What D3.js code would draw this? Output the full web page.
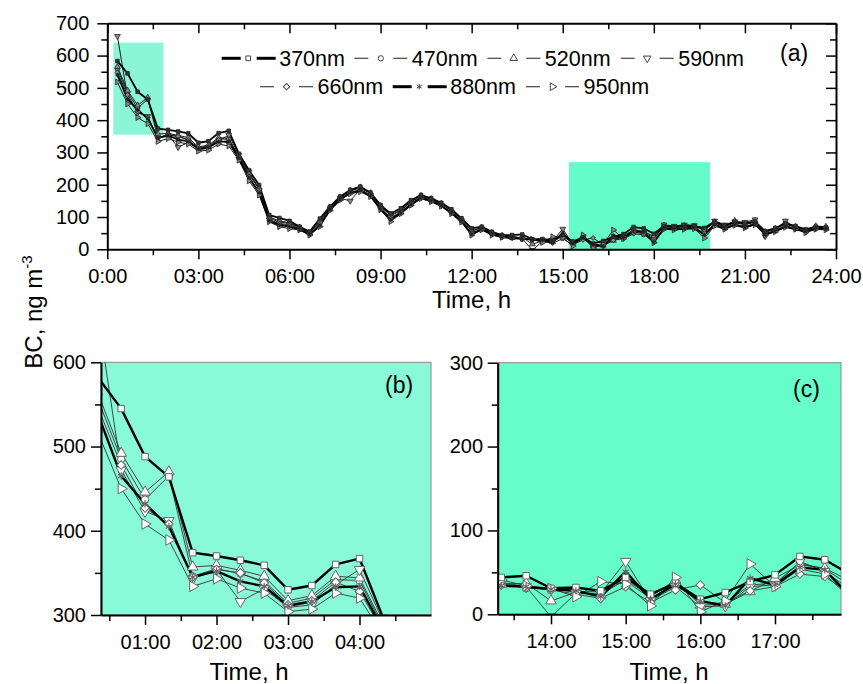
<!DOCTYPE html>
<html>
<head>
<meta charset="utf-8">
<script src="https://cdn.jsdelivr.net/npm/d3@7"></script>
<style>
  body { margin: 0; background: #fff; }
  text { font-family: "Liberation Sans", Arial, sans-serif; fill: #000; }
</style>
</head>
<body>
<svg id="chart" width="863" height="684"></svg>
<script>
// ---- data: black carbon (ng m^-3) by wavelength, 20-min means ----
const times = ["00:20","00:40","01:00","01:20","01:40","02:00","02:20","02:40","03:00","03:20","03:40","04:00",
  "04:20","04:40","05:00","05:20","05:40","06:00","06:20","06:40","07:00","07:20","07:40","08:00",
  "08:20","08:40","09:00","09:20","09:40","10:00","10:20","10:40","11:00","11:20","11:40","12:00",
  "12:20","12:40","13:00","13:20","13:40","14:00","14:20","14:40","15:00","15:20","15:40","16:00",
  "16:20","16:40","17:00","17:20","17:40","18:00","18:20","18:40","19:00","19:20","19:40","20:00",
  "20:20","20:40","21:00","21:20","21:40","22:00","22:20","22:40","23:00","23:20","23:40"];

const wavelengths = ["370nm", "470nm", "520nm", "590nm", "660nm", "880nm", "950nm"];

const bc370 = [583,545,488,464,374,370,365,359,330,335,360,367, 296,245,199,106,97,88,70,55,
  95,132,163,184,194,176,137,111,127,152, 168,158,144,124,96,65,70,54,44,
  44,46,31,32,28,44,24,37,18,26,39,47,69,65, 48,72,70,74,72,66,86,74,84,80,86,56,66,80,72,62,70,68];
const bc470 = [558,485,437,465,346,355,349,340,314,320,342,341, 285,232,186,96,85,80,66,52,
  85,128,160,180,190,172,132,104,120,146, 165,155,140,119,92,56,66,50,41,
  37,31,30,27,27,40,19,36,14,13,35,37,61,54, 35,70,68,70,70,60,82,70,82,76,84,52,62,78,68,60,68,66];
const bc520 = [565,492,446,470,357,359,353,346,317,323,346,344, 288,236,190,100,88,82,68,50,
  88,130,161,182,192,174,134,106,122,148, 166,156,141,120,93,58,67,51,42,
  36,37,16,26,23,42,21,41,11,12,27,43,59,55, 40,74,66,72,71,62,84,68,88,78,88,54,64,84,70,58,72,70];
const bc590 = [660,472,423,412,343,354,316,331,309,312,336,354, 292,240,184,92,80,76,64,48,
  80,126,158,150,186,168,128,98,116,142, 162,152,137,115,89,50,64,48,39,
  38,33,-3,25,25,63,16,33,9,10,33,35,63,51, 30,76,72,76,74,58,88,76,86,84,92,40,60,88,66,54,66,64];
const bc660 = [548,478,427,408,345,354,350,338,312,317,339,328, 280,225,178,90,78,72,62,47,
  76,124,155,176,184,166,126,95,114,140, 160,150,136,113,88,48,63,47,38,
  35,32,29,24,19,33,14,29,35,14,28,33,48,45, 25,66,64,66,67,50,78,66,78,70,80,48,58,74,64,56,64,62];
const bc880 = [540,465,432,405,345,352,340,334,311,316,333,334, 282,222,175,88,75,70,61,46,
  74,122,154,175,182,165,124,92,112,138, 159,149,135,112,86,46,62,46,38,
  34,33,30,28,21,51,18,36,16,10,43,35,56,53, 22,64,62,64,66,45,76,64,76,68,78,46,56,70,62,55,63,63];
const bc950 = [518,450,408,389,334,343,332,326,304,307,326,320, 276,212,168,85,70,64,60,44,
  70,120,152,172,178,163,122,86,110,136, 157,147,133,110,84,44,60,44,37,
  41,34,31,21,39,36,10,44,3,16,60,33,54,48, 20,62,60,62,64,35,72,62,74,66,76,44,54,68,62,52,62,60];

const seriesValues = [bc370, bc470, bc520, bc590, bc660, bc880, bc950];

// tick labels
const ticksA = ["0:00","03:00","06:00","09:00","12:00","15:00","18:00","21:00","24:00"];
const ticksB = ["01:00","02:00","03:00","04:00"];
const ticksC = ["14:00","15:00","16:00","17:00"];
const yTicksA = [0,100,200,300,400,500,600,700];
const yTicksB = [300,400,500,600];
const yTicksC = [0,100,200,300];

// highlighted windows shown enlarged in (b) and (c)
const zoomWindows = [
  { from: "00:12", to: "01:51", low: 355, high: 640 },
  { from: "15:12", to: "19:51", low: 0, high: 270 }
];

// ---- helpers ----
const toHours = s => { const [h, m] = s.split(":").map(Number); return h + m / 60; };
const hours = times.map(toHours);
const series = wavelengths.map((name, i) => ({
  name, i,
  points: hours.map((t, k) => ({ t, v: seriesValues[i][k] }))
}));

const thick = new Set(["370nm", "880nm"]);
const symbolDefs = {
  "370nm": { type: d3.symbolSquare, rot: 0, k: 1.0 },
  "470nm": { type: d3.symbolCircle, rot: 0, k: 1.0 },
  "520nm": { type: d3.symbolTriangle, rot: 0, k: 1.15 },
  "590nm": { type: d3.symbolTriangle, rot: 180, k: 1.15 },
  "660nm": { type: d3.symbolSquare, rot: 45, k: 0.9 },
  "880nm": { type: d3.symbolAsterisk || d3.symbolCross, rot: 0, k: 1.0 },
  "950nm": { type: d3.symbolTriangle, rot: 90, k: 1.15 }
};

const svg = d3.select("#chart");
const defs = svg.append("defs");
const FONT = '"Liberation Sans", Arial, sans-serif';

function styleAxis(g, fontSize, width) {
  g.attr("font-family", FONT).attr("font-size", fontSize);
  g.select(".domain").attr("stroke", "#000").attr("stroke-width", width);
  g.selectAll(".tick line").attr("stroke", "#000").attr("stroke-width", 1.5);
  g.selectAll(".tick text").attr("fill", "#000");
}

function drawPanel(cfg) {
  const { name, x, y } = cfg;
  const [xl, xr] = x.range(), [yb, yt] = y.range();
  const g = svg.append("g");
  const clipId = "clip-" + name;
  defs.append("clipPath").attr("id", clipId)
    .append("rect").attr("x", xl).attr("y", yt).attr("width", xr - xl).attr("height", yb - yt);

  if (cfg.bg) {
    g.append("rect").attr("x", xl).attr("y", yt).attr("width", xr - xl).attr("height", yb - yt)
      .attr("fill", cfg.bg).attr("stroke", "#8a8a8a").attr("stroke-width", 1);
  }
  if (cfg.windows) {
    g.append("g").selectAll("rect").data(cfg.windows).join("rect")
      .attr("x", d => x(toHours(d.from)))
      .attr("width", d => x(toHours(d.to)) - x(toHours(d.from)))
      .attr("y", d => y(d.high))
      .attr("height", d => y(d.low) - y(d.high))
      .attr("fill", (d, i) => cfg.windowColors[i]);
  }

  const plot = g.append("g").attr("clip-path", `url(#${clipId})`);
  const line = d3.line().x(d => x(d.t)).y(d => y(d.v));

  // thin series first, thick ones on top
  const order = [...series].sort((a, b) => (thick.has(a.name) ? 1 : 0) - (thick.has(b.name) ? 1 : 0));
  order.forEach(s => {
    plot.append("path").datum(s.points)
      .attr("fill", "none")
      .attr("stroke", thick.has(s.name) ? "#000" : cfg.thinColor)
      .attr("stroke-width", thick.has(s.name) ? cfg.thickW : cfg.thinW)
      .attr("stroke-linejoin", "round")
      .attr("d", line);
  });
  order.forEach(s => {
    const def = symbolDefs[s.name];
    const isStroke = def.type === d3.symbolAsterisk;
    const sym = d3.symbol().type(def.type).size(cfg.markerSize * def.k * (isStroke ? 0.9 : 1));
    plot.append("g").selectAll("path").data(s.points).join("path")
      .attr("transform", d => `translate(${x(d.t)},${y(d.v)}) rotate(${def.rot})`)
      .attr("d", sym)
      .attr("fill", isStroke ? "none" : (thick.has(s.name) ? cfg.markerFillThick : cfg.markerFill))
      .attr("stroke", cfg.markerStroke)
      .attr("stroke-width", isStroke ? 1.2 : cfg.markerStrokeW);
  });

  // axes: major + minor ticks
  const xMajor = cfg.xTicks.map(toHours);
  const bottom = g.append("g").attr("transform", `translate(0,${yb})`)
    .call(d3.axisBottom(x).tickValues(xMajor).tickSize(10).tickSizeOuter(0).tickPadding(10)
      .tickFormat((d, i) => cfg.xTicks[i]));
  styleAxis(bottom, 20, 2);
  g.append("g").attr("transform", `translate(0,${yb})`)
    .call(d3.axisBottom(x).tickValues(cfg.xMinor).tickSize(6).tickFormat(""))
    .call(a => { a.select(".domain").remove(); a.selectAll("line").attr("stroke", "#000").attr("stroke-width", 1.5); });

  const left = g.append("g").attr("transform", `translate(${xl},0)`)
    .call(d3.axisLeft(y).tickValues(cfg.yTicks).tickSize(10).tickSizeOuter(0).tickPadding(cfg.yPad)
      .tickFormat(d3.format("d")));
  styleAxis(left, 20, 2);
  g.append("g").attr("transform", `translate(${xl},0)`)
    .call(d3.axisLeft(y).tickValues(cfg.yMinor).tickSize(6).tickFormat(""))
    .call(a => { a.select(".domain").remove(); a.selectAll("line").attr("stroke", "#000").attr("stroke-width", 1.5); });

  if (cfg.box) {
    const top = g.append("g").attr("transform", `translate(0,${yt})`)
      .call(d3.axisTop(x).tickValues(xMajor).tickSize(-10).tickSizeOuter(0).tickFormat(""));
    styleAxis(top, 20, 2);
    g.append("g").attr("transform", `translate(0,${yt})`)
      .call(d3.axisTop(x).tickValues(cfg.xMinor).tickSize(-6).tickFormat(""))
      .call(a => { a.select(".domain").remove(); a.selectAll("line").attr("stroke", "#000").attr("stroke-width", 1.5); });
    const right = g.append("g").attr("transform", `translate(${xr},0)`)
      .call(d3.axisRight(y).tickValues(cfg.yTicks).tickSize(-10).tickSizeOuter(0).tickFormat(""));
    styleAxis(right, 20, 2);
    g.append("g").attr("transform", `translate(${xr},0)`)
      .call(d3.axisRight(y).tickValues(cfg.yMinor).tickSize(-6).tickFormat(""))
      .call(a => { a.select(".domain").remove(); a.selectAll("line").attr("stroke", "#000").attr("stroke-width", 1.5); });
  }

  // titles and panel letter
  g.append("text").attr("x", cfg.titleX).attr("y", cfg.titleY)
    .attr("text-anchor", "middle").attr("font-size", 24).text("Time, h");
  g.append("text").attr("x", cfg.labelX).attr("y", cfg.labelY)
    .attr("font-size", 23).text(cfg.label);
  return g;
}

// ---- panel (a): full day ----
const xA = d3.scaleLinear([0, 24], [107.3, 836]);
const yA = d3.scaleLinear([0, 700], [249.3, 23.3]);
drawPanel({
  name: "a", x: xA, y: yA, box: true,
  windows: zoomWindows, windowColors: ["#8af6d6", "#66fcc9"],
  xTicks: ticksA, xMinor: d3.range(1.5, 24, 3),
  yTicks: yTicksA, yMinor: d3.range(50, 700, 100), yPad: 8,
  thinColor: "#1a1a1a", thinW: 1, thickW: 1.8,
  markerSize: 13, markerFill: "#8a8a8a", markerFillThick: "#333", markerStroke: "#222", markerStrokeW: 0.8,
  titleX: 471.5, titleY: 308, label: "(a)", labelX: 780, labelY: 61
});

// ---- panel (b): early morning ----
const xB = d3.scaleLinear([0.384, 5.0], [101, 431]);
const yB = d3.scaleLinear([300, 600], [615, 362.3]);
drawPanel({
  name: "b", x: xB, y: yB, bg: "#88fad8",
  xTicks: ticksB, xMinor: d3.range(0.5, 5, 1),
  yTicks: yTicksB, yMinor: [350, 450, 550], yPad: 5,
  thinColor: "#333", thinW: 0.9, thickW: 2.4,
  markerSize: 42, markerFill: "#fff", markerFillThick: "#fff", markerStroke: "#666", markerStrokeW: 1,
  titleX: 249, titleY: 680, label: "(b)", labelX: 385, labelY: 393
});

// ---- panel (c): afternoon ----
const xC = d3.scaleLinear([13.286, 17.884], [497.7, 841]);
const yC = d3.scaleLinear([0, 300], [614.3, 362.7]);
drawPanel({
  name: "c", x: xC, y: yC, bg: "#66fdca",
  xTicks: ticksC, xMinor: d3.range(13.5, 18, 1),
  yTicks: yTicksC, yMinor: [50, 150, 250], yPad: 4.7,
  thinColor: "#333", thinW: 0.9, thickW: 2.4,
  markerSize: 42, markerFill: "#fff", markerFillThick: "#fff", markerStroke: "#666", markerStrokeW: 1,
  titleX: 669, titleY: 680, label: "(c)", labelX: 793, labelY: 397
});

// ---- shared y-axis title ----
const yTitle = svg.append("text")
  .attr("transform", "translate(42,312) rotate(-90)")
  .attr("text-anchor", "middle").attr("font-size", 24);
yTitle.append("tspan").text("BC, ng m");
yTitle.append("tspan").attr("font-size", 15).attr("dy", -10).text("-3");

// ---- legend (inside panel a) ----
const legendPos = [
  { x: 221.7, y: 58.3 }, { x: 354.3, y: 58.3 }, { x: 487.3, y: 58.3 }, { x: 620.7, y: 58.3 },
  { x: 260, y: 86.7 }, { x: 392.7, y: 86.7 }, { x: 526, y: 86.7 }
];
const legend = svg.append("g");
series.forEach((s, i) => {
  const p = legendPos[i];
  const item = legend.append("g").attr("transform", `translate(${p.x},${p.y})`);
  const isThick = thick.has(s.name);
  const segs = isThick ? [[0, 19], [35, 54]] : [[0, 14], [39, 53]];
  segs.forEach(([a, b]) => item.append("line").attr("x1", a).attr("x2", b)
    .attr("stroke", isThick ? "#000" : "#444").attr("stroke-width", isThick ? 3 : 1.2));
  const def = symbolDefs[s.name];
  const isStroke = def.type === d3.symbolAsterisk;
  item.append("path")
    .attr("transform", `translate(26.5,0) rotate(${def.rot})`)
    .attr("d", d3.symbol().type(def.type).size(22 * def.k))
    .attr("fill", isStroke ? "none" : "#fff")
    .attr("stroke", "#444").attr("stroke-width", 1);
  item.append("text").attr("x", 57.5).attr("y", 7.6).attr("font-size", 21.5).text(s.name);
});
</script>
</body>
</html>
